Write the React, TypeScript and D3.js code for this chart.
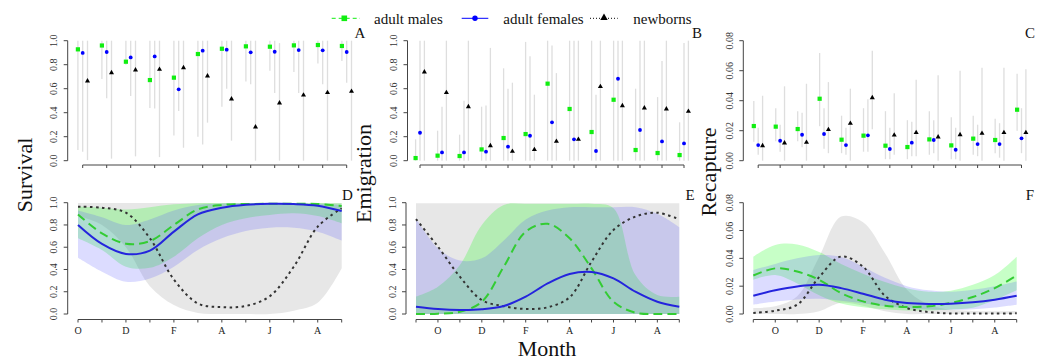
import React from "react";
import * as d3 from "d3";

// ---------- Top panels: monthly estimates with 95% CI ----------
// A: Survival (12 intervals)
const survMale = [0.928, 0.96, 0.825, 0.672, 0.692, 0.889, 0.933, 0.953, 0.95, 0.961, 0.964, 0.956];
const survMaleLo = [0.09, 0.68, 0.8, 0.44, 0.21, 0.2, 0.45, 0.66, 0.75, 0.74, 0.81, 0.83];
const survMaleHi = [1, 1, 1, 1, 1, 1, 1, 1, 1, 1, 1, 1];
const survFem = [0.898, 0.906, 0.861, 0.869, 0.595, 0.917, 0.925, 0.903, 0.908, 0.922, 0.92, 0.906];
const survFemLo = [0.075, 0.52, 0.54, 0.435, 0.414, 0.136, 0.6, 0.637, 0.564, 0.564, 0.637, 0.65];
const survFemHi = [1, 1, 1, 1, 1, 1, 1, 1, 1, 1, 1, 1];
const survNew = [0.664, 0.733, 0.756, 0.761, 0.775, 0.706, 0.514, 0.281, 0.481, 0.547, 0.567, 0.578];
const survNewLo = [0.005, 0.017, 0.036, 0.03, 0.108, 0.317, 0.167, 0, 0, 0, 0, 0];
const survNewHi = [1, 1, 1, 1, 1, 1, 1, 1, 0.98, 1, 1, 1];

// B: Emigration (13 occasions)
const emMale = [0.022, 0.042, 0.039, 0.094, 0.189, 0.222, 0.642, 0.431, 0.239, 0.508, 0.089, 0.064, 0.047];
const emMaleLo = [0, 0, 0, 0, 0, 0, 0, 0, 0, 0, 0, 0, 0];
const emMaleHi = [0.178, 0.25, 0.217, 0.45, 0.77, 0.99, 1, 1, 1, 1, 0.6, 0.53, 0.32];
const emFem = [0.233, 0.069, 0.069, 0.075, 0.117, 0.208, 0.32, 0.178, 0.081, 0.683, 0.256, 0.161, 0.144];
const emFemLo = [0, 0, 0, 0, 0, 0, 0, 0, 0, 0, 0, 0, 0];
const emFemHi = [1, 0.45, 0.5, 0.46, 0.6, 0.87, 0.96, 1, 0.55, 1, 1, 0.83, 0.98];
const emNew = [0.739, 0.567, 0.45, 0.125, 0.078, 0.092, 0.161, 0.178, 0.617, 0.458, 0.439, 0.431, 0.411];
const emNewLo = [0, 0, 0, 0, 0, 0, 0, 0, 0, 0, 0, 0, 0];
const emNewHi = [1, 1, 1, 0.94, 0.65, 0.55, 0.73, 1, 1, 1, 1, 1, 1];

// C: Recapture (13 occasions)
const recMale = [0.0231, 0.0227, 0.0211, 0.0413, 0.014, 0.0167, 0.01, 0.0091, 0.0142, 0.0102, 0.0147, 0.0138, 0.034];
const recMaleLo = [0.0127, 0.013, 0.013, 0.023, 0.005, 0.006, 0.001, 0.001, 0.004, 0.001, 0.004, 0.005, 0.02];
const recMaleHi = [0.0398, 0.035, 0.033, 0.0718, 0.03, 0.035, 0.033, 0.027, 0.033, 0.029, 0.03, 0.028, 0.058];
const recFem = [0.0104, 0.0133, 0.0173, 0.0178, 0.0104, 0.0169, 0.0078, 0.012, 0.0138, 0.0073, 0.0111, 0.0111, 0.0149];
const recFemLo = [0.004, 0.006, 0.009, 0.008, 0.004, 0.006, 0.001, 0.003, 0.005, 0.001, 0.003, 0.002, 0.005];
const recFemHi = [0.022, 0.024, 0.032, 0.035, 0.022, 0.041, 0.022, 0.026, 0.027, 0.022, 0.024, 0.025, 0.035];
const recNew = [0.01, 0.0118, 0.0122, 0.0207, 0.0249, 0.042, 0.0171, 0.0187, 0.0158, 0.0173, 0.0182, 0.0187, 0.0187];
const recNewLo = [0, 0, 0, 0.005, 0, 0.021, 0.004, 0.003, 0, 0, 0, 0, 0];
const recNewHi = [0.0433, 0.0496, 0.0513, 0.0524, 0.048, 0.0733, 0.045, 0.054, 0.057, 0.06, 0.062, 0.062, 0.061];

// ---------- Bottom panels: smoothed seasonal curves with bands ----------
// D: Survival (12 months, Oct..Sep)
const dMale = [0.895, 0.725, 0.632, 0.655, 0.8, 0.94, 0.98, 0.988, 0.99, 0.99, 0.988, 0.97];
const dMaleLo = [0.68, 0.575, 0.425, 0.415, 0.515, 0.68, 0.8, 0.86, 0.89, 0.905, 0.88, 0.815];
const dMaleHi = [0.965, 0.955, 0.94, 0.96, 0.985, 0.995, 0.998, 0.998, 0.998, 0.998, 0.998, 0.995];
const dFem = [0.8, 0.63, 0.54, 0.57, 0.74, 0.895, 0.955, 0.982, 0.99, 0.988, 0.973, 0.925];
const dFemLo = [0.505, 0.38, 0.29, 0.32, 0.425, 0.575, 0.68, 0.745, 0.775, 0.775, 0.74, 0.66];
const dFemHi = [0.93, 0.87, 0.8, 0.85, 0.93, 0.98, 0.99, 0.995, 0.995, 0.995, 0.99, 0.98];
const dNew = [0.964, 0.955, 0.91, 0.68, 0.31, 0.095, 0.062, 0.072, 0.16, 0.425, 0.785, 0.95];
const dNewLo = [0.88, 0.8, 0.6, 0.25, 0.08, 0.01, 0, 0, 0, 0.03, 0.1, 0.41];
const dNewHi = [0.998, 0.998, 0.998, 0.998, 0.998, 0.998, 0.998, 0.998, 0.998, 0.998, 0.998, 0.998];

// E: Emigration (13 months, Sep..Sep)
const eMale = [0.0, 0.003, 0.02, 0.11, 0.425, 0.74, 0.81, 0.68, 0.41, 0.11, 0.012, 0.0, 0.0];
const eMaleLo = [0, 0, 0, 0, 0, 0, 0, 0, 0, 0, 0, 0, 0];
const eMaleHi = [0.156, 0.245, 0.44, 0.8, 0.98, 0.99, 0.99, 0.99, 0.99, 0.95, 0.35, 0.17, 0.156];
const eFem = [0.066, 0.045, 0.036, 0.042, 0.072, 0.156, 0.275, 0.36, 0.378, 0.32, 0.2, 0.11, 0.066];
const eFemLo = [0, 0, 0, 0, 0, 0, 0, 0, 0, 0, 0, 0, 0];
const eFemHi = [0.86, 0.59, 0.48, 0.5, 0.66, 0.85, 0.93, 0.96, 0.96, 0.96, 0.96, 0.9, 0.78];
const eNew = [0.853, 0.605, 0.335, 0.125, 0.07, 0.045, 0.06, 0.15, 0.47, 0.755, 0.875, 0.91, 0.85];
const eNewLo = [0, 0, 0, 0, 0, 0, 0, 0, 0, 0, 0, 0, 0];
const eNewHi = [0.995, 0.995, 0.995, 0.995, 0.995, 0.995, 0.995, 0.995, 0.995, 0.995, 0.995, 0.995, 0.995];

// F: Recapture (13 months, Sep..Sep)
const fMale = [0.0277, 0.0328, 0.0305, 0.0246, 0.015, 0.0091, 0.006, 0.005, 0.0055, 0.0079, 0.0122, 0.0186, 0.0277];
const fMaleLo = [0.0246, 0.028, 0.022, 0.0135, 0.0075, 0.0048, 0.0034, 0.0026, 0.0026, 0.0032, 0.0045, 0.01, 0.017];
const fMaleHi = [0.0412, 0.0496, 0.05, 0.0445, 0.036, 0.029, 0.023, 0.0185, 0.016, 0.0168, 0.021, 0.028, 0.0412];
const fFem = [0.0131, 0.017, 0.0198, 0.021, 0.0186, 0.0146, 0.0103, 0.0079, 0.0072, 0.0074, 0.0084, 0.0103, 0.0131];
const fFemLo = [0.0067, 0.009, 0.0105, 0.011, 0.0095, 0.0077, 0.0055, 0.0042, 0.0032, 0.003, 0.0034, 0.0047, 0.0067];
const fFemHi = [0.0317, 0.036, 0.04, 0.0424, 0.041, 0.034, 0.026, 0.02, 0.017, 0.016, 0.0175, 0.02, 0.0234];
const fNew = [0.0007, 0.0024, 0.0067, 0.0265, 0.0413, 0.034, 0.0131, 0.0043, 0.0014, 0.0004, 0.0003, 0.0003, 0.0005];
const fNewLo = [0, 0, 0, 0.002, 0.008, 0.006, 0.002, 0, 0, 0, 0, 0, 0];
const fNewHi = [0.0043, 0.0055, 0.0127, 0.041, 0.07, 0.066, 0.0437, 0.0174, 0.0067, 0.003, 0.0022, 0.002, 0.0022];

// ---------- Axis ticks / labels ----------
const probTicks = [0, 0.2, 0.4, 0.6, 0.8, 1.0];
const recTicks = [0, 0.02, 0.04, 0.06, 0.08];
const dMonthLabels = ["O", "", "D", "", "F", "", "A", "", "J", "", "A", ""];
const efMonthLabels = ["", "O", "", "D", "", "F", "", "A", "", "J", "", "A", ""];
const legendLabels = ["adult males", "adult females", "newborns"];
const yTitles = ["Survival", "Emigration", "Recapture"];
const xTitle = "Month";

// ---------- Styles ----------
const FONT = '"Liberation Serif","Times New Roman",Times,serif';
const AXIS = "#444";
const GREEN_PT = "#11ee11";
const GREEN_LN = "#33cc33";
const BLUE_PT = "#0000ff";
const BLUE_LN = "#2424dd";
const BLACK_LN = "#333";
const CI = "#dedede";
const BAND_GRAY = "rgba(160,160,160,0.25)";
const BAND_GREEN = "rgba(0,255,0,0.22)";
const BAND_BLUE = "rgba(80,80,255,0.2)";
const CURVE = d3.curveCatmullRom.alpha(0.5);

const triPath = (size: number) => d3.symbol().type(d3.symbolTriangle).size(size)() as string;

type Geom = { axisX: number; x0: number; x1: number; yTop: number; yBot: number; xAxisY: number };

function YAxis({ y, ticks, fmt, axisX }: any) {
  return (
    <g>
      <line x1={axisX} x2={axisX} y1={y(ticks[0])} y2={y(ticks[ticks.length - 1])} stroke={AXIS} />
      {ticks.map((t: number) => (
        <g key={t}>
          <line x1={axisX - 4} x2={axisX} y1={y(t)} y2={y(t)} stroke={AXIS} />
          <text
            transform={`translate(${axisX - 10.5},${y(t)}) rotate(-90)`}
            textAnchor="middle"
            fontSize={10}
            fill="#333"
            fontFamily={FONT}
          >
            {fmt(t)}
          </text>
        </g>
      ))}
    </g>
  );
}

function XAxis({ x, n, start, ay, labels }: any) {
  const idx = d3.range(start, start + n);
  return (
    <g>
      <line x1={x(idx[0])} x2={x(idx[idx.length - 1])} y1={ay} y2={ay} stroke={AXIS} />
      {idx.map((i: number, k: number) => (
        <g key={i}>
          <line x1={x(i)} x2={x(i)} y1={ay} y2={ay + 3} stroke={AXIS} />
          {labels && labels[k] ? (
            <text x={x(i)} y={333.5} textAnchor="middle" fontSize={10} fill="#222" fontFamily={FONT}>
              {labels[k]}
            </text>
          ) : null}
        </g>
      ))}
    </g>
  );
}

function TopPanel({ g, ymax, ticks, fmt, series, letter, letterX }: any) {
  const n = series[0].v.length;
  const x = d3.scaleLinear().domain([1, n]).range([g.x0, g.x1]);
  const y = d3.scaleLinear().domain([0, ymax]).range([g.yBot, g.yTop]);
  const offs = [-0.2, 0, 0.2];
  return (
    <g>
      {series.map((s: any, si: number) =>
        s.v.map((_: number, i: number) => (
          <line
            key={`ci${si}-${i}`}
            x1={x(i + 1 + offs[si])}
            x2={x(i + 1 + offs[si])}
            y1={y(s.lo[i])}
            y2={y(s.hi[i])}
            stroke={CI}
            strokeWidth={1.3}
          />
        ))
      )}
      {series.map((s: any, si: number) =>
        s.v.map((v: number, i: number) => {
          const cx = x(i + 1 + offs[si]);
          const cy = y(v);
          if (si === 0) return <rect key={`p${si}-${i}`} x={cx - 2.1} y={cy - 2.1} width={4.2} height={4.2} fill={GREEN_PT} />;
          if (si === 1) return <circle key={`p${si}-${i}`} cx={cx} cy={cy} r={1.9} fill={BLUE_PT} />;
          return <path key={`p${si}-${i}`} d={triPath(11)} transform={`translate(${cx},${cy})`} fill="#000" />;
        })
      )}
      <YAxis y={y} ticks={ticks} fmt={fmt} axisX={g.axisX} />
      <XAxis x={x} n={n} start={1} ay={g.xAxisY} labels={null} />
      <text x={letterX} y={37.5} textAnchor="middle" fontSize={15} fontFamily={FONT} fill="#111">
        {letter}
      </text>
    </g>
  );
}

function BottomPanel({ g, ymax, ticks, fmt, series, labels, letter, letterX }: any) {
  const n = series[0].v.length;
  const x = d3.scaleLinear().domain([0, n - 1]).range([g.x0, g.x1]);
  const y = d3.scaleLinear().domain([0, ymax]).range([g.yBot, g.yTop]);
  const idx = d3.range(n);
  const area = (lo: number[], hi: number[]) =>
    d3
      .area<number>()
      .x((i) => x(i))
      .y0((i) => y(lo[i]))
      .y1((i) => y(hi[i]))
      .curve(CURVE)(idx) as string;
  const line = (v: number[]) =>
    d3
      .line<number>()
      .x((i) => x(i))
      .y((i) => y(v[i]))
      .curve(CURVE)(idx) as string;
  const [male, fem, nb] = series;
  return (
    <g>
      <path d={area(nb.lo, nb.hi)} fill={BAND_GRAY} />
      <path d={area(male.lo, male.hi)} fill={BAND_GREEN} />
      <path d={area(fem.lo, fem.hi)} fill={BAND_BLUE} />
      <path d={line(nb.v)} fill="none" stroke={BLACK_LN} strokeWidth={2} strokeDasharray="2.5,3.5" />
      <path d={line(male.v)} fill="none" stroke={GREEN_LN} strokeWidth={2} strokeDasharray="9,5" />
      <path d={line(fem.v)} fill="none" stroke={BLUE_LN} strokeWidth={2} />
      <YAxis y={y} ticks={ticks} fmt={fmt} axisX={g.axisX} />
      <XAxis x={x} n={n} start={0} ay={g.xAxisY} labels={labels} />
      <text x={letterX} y={200} textAnchor="middle" fontSize={15} fontFamily={FONT} fill="#111">
        {letter}
      </text>
    </g>
  );
}

export default function App() {
  const f1 = d3.format(".1f");
  const f2 = d3.format(".2f");
  const top = { yTop: 40.7, yBot: 160.7, xAxisY: 165 };
  const bot = { yTop: 202.7, yBot: 314, xAxisY: 319.5 };
  const gA: Geom = { axisX: 67.7, x0: 82.7, x1: 346.7, ...top };
  const gB: Geom = { axisX: 407.5, x0: 420, x1: 684, ...top };
  const gC: Geom = { axisX: 743.3, x0: 758.2, x1: 1021.5, ...top };
  const gD: Geom = { axisX: 67.7, x0: 78, x1: 341.7, ...bot };
  const gE: Geom = { axisX: 406, x0: 416, x1: 679.3, ...bot };
  const gF: Geom = { axisX: 743.3, x0: 753.3, x1: 1016.7, ...bot };

  const legendY = 18.3;
  return (
    <svg
      width={1042}
      height={362}
      style={{ position: "absolute", left: 0, top: 0, background: "#fff" }}
      fontFamily={FONT}
    >
      <rect width={1042} height={362} fill="#fff" />
      {/* Legend */}
      <g>
        <line x1={331.7} x2={360} y1={legendY} y2={legendY} stroke={GREEN_PT} strokeWidth={1} strokeDasharray="4,3" />
        <rect x={344.3 - 2.8} y={legendY - 2.8} width={5.6} height={5.6} fill={GREEN_PT} />
        <text x={374} y={23.5} fontSize={15} fill="#111">{legendLabels[0]}</text>
        <line x1={461.7} x2={488.3} y1={legendY} y2={legendY} stroke={BLUE_PT} strokeWidth={1} />
        <circle cx={475} cy={legendY} r={2.7} fill={BLUE_PT} />
        <text x={503.3} y={23.5} fontSize={15} fill="#111">{legendLabels[1]}</text>
        <line x1={590} x2={617.7} y1={legendY} y2={legendY} stroke="#000" strokeWidth={1} strokeDasharray="1,2" />
        <path d={triPath(24)} transform={`translate(604,${legendY - 0.5})`} fill="#000" />
        <text x={633.3} y={23.5} fontSize={15} fill="#111">{legendLabels[2]}</text>
      </g>

      <TopPanel
        g={gA}
        ymax={1}
        ticks={probTicks}
        fmt={f1}
        letter="A"
        letterX={360}
        series={[
          { v: survMale, lo: survMaleLo, hi: survMaleHi },
          { v: survFem, lo: survFemLo, hi: survFemHi },
          { v: survNew, lo: survNewLo, hi: survNewHi },
        ]}
      />
      <TopPanel
        g={gB}
        ymax={1}
        ticks={probTicks}
        fmt={f1}
        letter="B"
        letterX={697}
        series={[
          { v: emMale, lo: emMaleLo, hi: emMaleHi },
          { v: emFem, lo: emFemLo, hi: emFemHi },
          { v: emNew, lo: emNewLo, hi: emNewHi },
        ]}
      />
      <TopPanel
        g={gC}
        ymax={0.08}
        ticks={recTicks}
        fmt={f2}
        letter="C"
        letterX={1030}
        series={[
          { v: recMale, lo: recMaleLo, hi: recMaleHi },
          { v: recFem, lo: recFemLo, hi: recFemHi },
          { v: recNew, lo: recNewLo, hi: recNewHi },
        ]}
      />
      <BottomPanel
        g={gD}
        ymax={1}
        ticks={probTicks}
        fmt={f1}
        labels={dMonthLabels}
        letter="D"
        letterX={347.5}
        series={[
          { v: dMale, lo: dMaleLo, hi: dMaleHi },
          { v: dFem, lo: dFemLo, hi: dFemHi },
          { v: dNew, lo: dNewLo, hi: dNewHi },
        ]}
      />
      <BottomPanel
        g={gE}
        ymax={1}
        ticks={probTicks}
        fmt={f1}
        labels={efMonthLabels}
        letter="E"
        letterX={690}
        series={[
          { v: eMale, lo: eMaleLo, hi: eMaleHi },
          { v: eFem, lo: eFemLo, hi: eFemHi },
          { v: eNew, lo: eNewLo, hi: eNewHi },
        ]}
      />
      <BottomPanel
        g={gF}
        ymax={0.08}
        ticks={recTicks}
        fmt={f2}
        labels={efMonthLabels}
        letter="F"
        letterX={1030}
        series={[
          { v: fMale, lo: fMaleLo, hi: fMaleHi },
          { v: fFem, lo: fFemLo, hi: fFemHi },
          { v: fNew, lo: fNewLo, hi: fNewHi },
        ]}
      />

      {/* Axis titles */}
      <text transform="translate(31.5,175) rotate(-90)" textAnchor="middle" fontSize={22} fill="#111">{yTitles[0]}</text>
      <text transform="translate(371,173.5) rotate(-90)" textAnchor="middle" fontSize={22} fill="#111">{yTitles[1]}</text>
      <text transform="translate(716,172) rotate(-90)" textAnchor="middle" fontSize={22} fill="#111">{yTitles[2]}</text>
      <text x={547} y={356} textAnchor="middle" fontSize={22} fill="#111">{xTitle}</text>
    </svg>
  );
}
